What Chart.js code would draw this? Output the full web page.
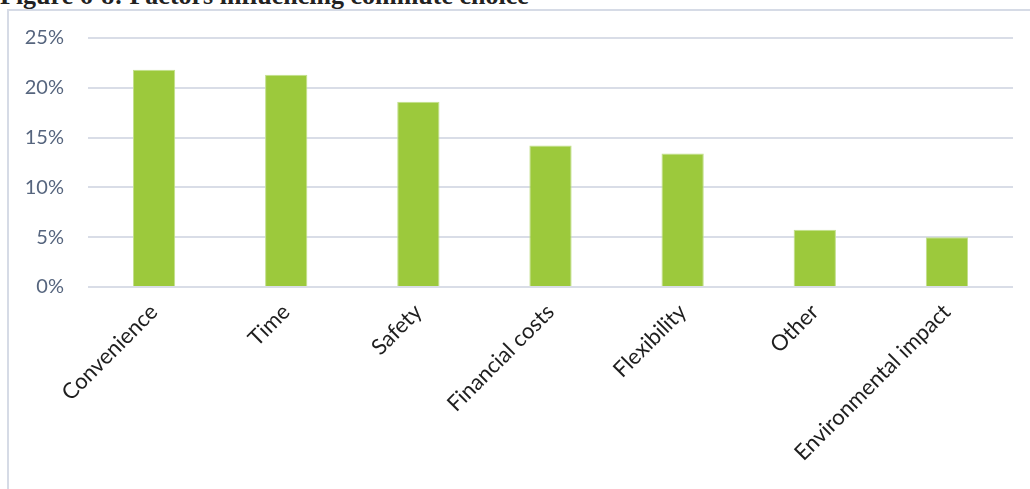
<!DOCTYPE html>
<html>
<head>
<meta charset="utf-8">
<script src="https://cdn.jsdelivr.net/npm/chart.js@4"></script>
<style>
    html, body { margin: 0; padding: 0; background: #fff; overflow: hidden; }
    #title {
        position: absolute; left: 0; top: -19px;
        font: bold 26px "Liberation Serif", serif; color: #222;
        white-space: nowrap;
    }
    #frame {
        position: absolute; left: 7px; top: 9px; right: 0; bottom: 0;
        border-left: 2px solid #d6dbe6; border-top: 2px solid #d6dbe6;
    }
    #wrap { position: absolute; left: 0; top: 0; width: 1030px; height: 489px; }
</style>
</head>
<body>
<div id="title">Figure 6-8: Factors influencing commute choice</div>
<div id="frame"></div>
<div id="wrap"><canvas id="factorsChart"></canvas></div>
<script>
// Share of respondents naming each factor (%)
const factors = ['Convenience', 'Time', 'Safety', 'Financial costs', 'Flexibility', 'Other', 'Environmental impact'];
const shares = [21.8, 21.3, 18.6, 14.2, 13.4, 5.75, 5.0];
const yTicks = [0, 5, 10, 15, 20, 25];

const gridColor = '#d9dde7';

new Chart(document.getElementById('factorsChart'), {
    type: 'bar',
    data: {
        labels: factors,
        datasets: [{
            data: shares,
            backgroundColor: '#9cc93c',
            borderColor: '#c2df8c',
            borderWidth: 1,
            categoryPercentage: 1,
            barPercentage: 0.32
        }]
    },
    options: {
        responsive: true,
        maintainAspectRatio: false,
        animation: false,
        layout: { padding: { top: 38, right: 17, left: 0, bottom: 0 } },
        plugins: { legend: { display: false }, tooltip: { enabled: false } },
        scales: {
            x: {
                grid: { display: false },
                border: { display: false },
                afterFit: (scale) => { scale.height = 202; },
                ticks: {
                    minRotation: 45,
                    maxRotation: 45,
                    padding: 4,
                    color: '#1e1e1e',
                    font: { family: 'Lato', size: 22 }
                }
            },
            y: {
                min: 0,
                max: 25,
                afterFit: (scale) => { scale.width = 88; },
                afterBuildTicks: (scale) => { scale.ticks = yTicks.map(v => ({ value: v })); },
                grid: { color: gridColor, lineWidth: 2, drawTicks: false },
                border: { display: false },
                ticks: {
                    padding: 24,
                    color: '#56657e',
                    font: { family: 'Lato', size: 20 },
                    callback: (v) => v + '%'
                }
            }
        }
    }
});
</script>
</body>
</html>
